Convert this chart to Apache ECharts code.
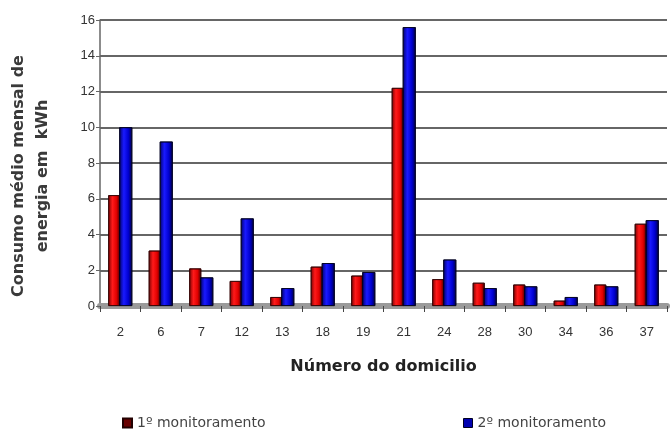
<!DOCTYPE html>
<html><head><meta charset="utf-8">
<script src="https://cdn.jsdelivr.net/npm/echarts@6/dist/echarts.min.js"></script>
<style>html,body{margin:0;padding:0;background:#fff}#c{width:670px;height:429px}</style>
</head><body><div id="c"></div>
<script>
const categories = ['2','6','7','12','13','18','19','21','24','28','30','34','36','37'];
const monitoramento1 = [6.2, 3.1, 2.1, 1.4, 0.5, 2.2, 1.7, 12.2, 1.5, 1.3, 1.2, 0.3, 1.2, 4.6];
const monitoramento2 = [10.0, 9.2, 1.6, 4.9, 1.0, 2.4, 1.9, 15.6, 2.6, 1.0, 1.1, 0.5, 1.1, 4.8];
const yTicks = {min: 0, max: 16, interval: 2};

const font = 'Liberation Sans, Arial, sans-serif';
const wide = 'DejaVu Sans, sans-serif';
function grad(a, b, c, d) {
  return new echarts.graphic.LinearGradient(0, 0, 1, 0, [
    {offset: 0, color: a}, {offset: 0.35, color: b}, {offset: 0.7, color: c}, {offset: 1, color: d}
  ]);
}
const chart = echarts.init(document.getElementById('c'), null, {renderer: 'canvas'});
chart.setOption({
  animation: false,
  backgroundColor: '#fff',
  textStyle: {fontFamily: font},
  grid: {left: 100, right: 3, top: 20, bottom: 123, containLabel: false, outerBoundsMode: 'none'},
  legend: [
    {data: ['1º monitoramento'], left: 117, top: 411, icon: 'rect', itemWidth: 9, itemHeight: 9, itemGap: 7,
     textStyle: {fontSize: 14, color: '#444', fontFamily: wide}},
    {data: ['2º monitoramento'], left: 458, top: 411, icon: 'rect', itemWidth: 9, itemHeight: 9, itemGap: 7,
     textStyle: {fontSize: 14, color: '#444', fontFamily: wide}}
  ],
  xAxis: {
    type: 'category', data: categories,
    name: 'Número do domicilio', nameLocation: 'middle', nameGap: 53,
    nameTextStyle: {fontSize: 16, fontWeight: 'bold', color: '#222', fontFamily: wide},
    axisLine: {lineStyle: {color: '#9a9a9a', width: 6}},
    axisTick: {show: true, length: 6, lineStyle: {color: '#444', width: 1}},
    axisLabel: {fontSize: 13, color: '#333', margin: 20}
  },
  yAxis: {
    type: 'value', min: yTicks.min, max: yTicks.max, interval: yTicks.interval,
    name: 'Consumo médio mensal de\nenergia em  kWh', nameLocation: 'middle', nameGap: 45,
    nameTextStyle: {fontSize: 16, fontWeight: 'bold', color: '#3a3a3a', lineHeight: 24, fontFamily: wide,
      padding: [0, 26, 0, 0]},
    axisLine: {show: true, lineStyle: {color: '#666', width: 1.5}},
    axisTick: {show: true, length: 4, lineStyle: {color: '#666'}},
    axisLabel: {fontSize: 13, color: '#333', margin: 5},
    splitLine: {lineStyle: {color: '#333', width: 1.6}}
  },
  series: [
    {name: '1º monitoramento', type: 'bar', data: monitoramento1, barWidth: 12, barGap: '-8%',
     itemStyle: {color: grad('#7a0000', '#ff1a1a', '#e00000', '#3a0000'), borderColor: '#300', borderWidth: 0.8}},
    {name: '2º monitoramento', type: 'bar', data: monitoramento2, barWidth: 13,
     itemStyle: {color: grad('#00006a', '#1a1aff', '#0000d0', '#000040'), borderColor: '#002', borderWidth: 0.8}}
  ]
});
chart.setOption({legend: [
  {itemStyle: {color: '#6a0000', borderColor: '#200', borderWidth: 2}},
  {itemStyle: {color: '#0000b0', borderColor: '#002', borderWidth: 1}}
]});
</script></body></html>
